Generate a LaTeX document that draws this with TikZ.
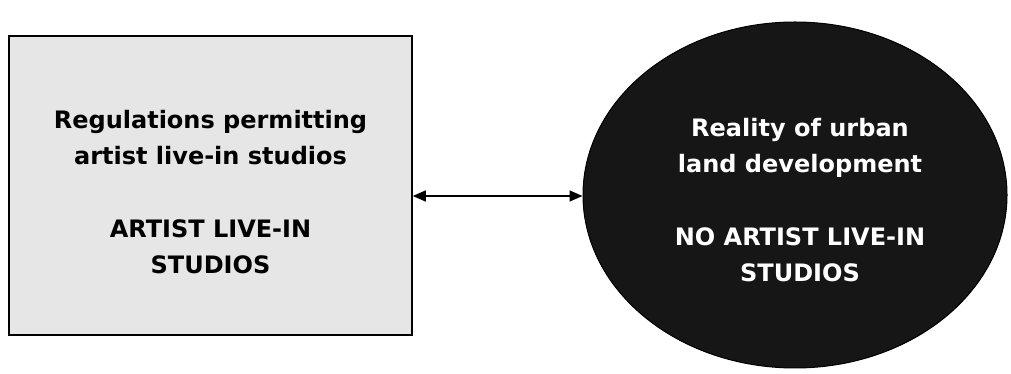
\documentclass[tikz,border=0pt]{standalone}
\usepackage{fontspec}
\setmainfont{DejaVu Sans}
\usetikzlibrary{arrows.meta,shapes.geometric}
\definecolor{boxgray}{HTML}{E6E6E6}
\definecolor{ovalblack}{HTML}{161616}
\tikzset{
  txt/.style={font=\fontsize{24}{36}\selectfont\bfseries, align=center, inner sep=0pt},
  graybox/.style={draw=black, line width=1.6pt, fill=boxgray, minimum width=403pt, minimum height=299pt, inner sep=0pt},
  darkoval/.style={ellipse, draw=black, line width=1pt, fill=ovalblack, minimum width=424pt, minimum height=346pt, inner sep=0pt},
  link/.style={line width=1.4pt, {Triangle[length=13pt,width=11pt]}-{Triangle[length=13pt,width=11pt]}}
}
\begin{document}
\begin{tikzpicture}[x=1pt,y=1pt]
\useasboundingbox (0,0) rectangle (1011,374);
\fill[white] (0,0) rectangle (1011,374);
\node[graybox] (reg) at (210.5,188.5) {};
\node[darkoval] (real) at (795,179) {};
\node[txt] (regtext) at (210.5,182) {Regulations permitting\\artist live-in studios\\[37pt]ARTIST LIVE-IN\\STUDIOS};
\node[txt, text=white] (realtext) at (800,174) {Reality of urban\\land development\\[37pt]NO ARTIST LIVE-IN\\STUDIOS};
\draw[link] (reg.east |- 0,178) -- (real.west |- 0,178);
\end{tikzpicture}
\end{document}
